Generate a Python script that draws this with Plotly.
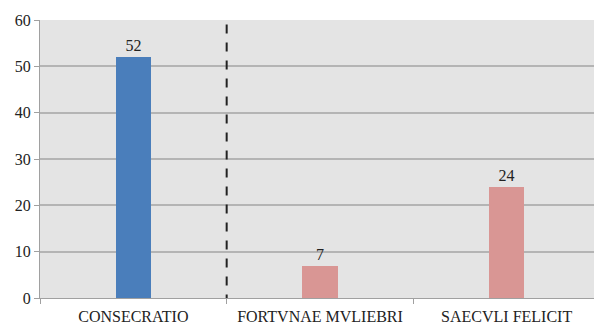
import plotly.graph_objects as go

categories = ["CONSECRATIO", "FORTVNAE MVLIEBRI", "SAECVLI FELICIT"]
values = [52, 7, 24]
bar_colors = ["#4a7ebb", "#d99694", "#d99694"]
y_ticks = [0, 10, 20, 30, 40, 50, 60]

font_family = "Liberation Serif, Times New Roman, serif"

fig = go.Figure()
fig.add_trace(go.Bar(
    x=categories,
    y=values,
    width=0.19,
    marker=dict(color=bar_colors, line=dict(width=0)),
    text=[str(v) for v in values],
    textposition="outside",
    textfont=dict(family=font_family, size=16, color="#222222"),
    cliponaxis=False,
))

fig.add_shape(type="line", xref="x", yref="y", x0=0.5, x1=0.5, y0=-1.2, y1=60,
              line=dict(color="#222222", width=2, dash="dash"))

# page body has an 8px default margin; size the figure to fit the window
fig.update_layout(
    width=594, height=316,
    margin=dict(l=32, r=2, t=12, b=26),
    paper_bgcolor="white",
    plot_bgcolor="#e4e4e4",
    showlegend=False,
    bargap=0,
    font=dict(family=font_family, size=16, color="#222222"),
)
fig.update_xaxes(
    range=[-0.5, 2.5],
    automargin=False,
    showgrid=False,
    showline=True, linecolor="#a0a0a0", linewidth=1,
    ticks="outside", tickson="boundaries", ticklen=5, tickcolor="#a0a0a0",
    ticklabelstandoff=4,
    tickfont=dict(family=font_family, size=16, color="#222222"),
    zeroline=False,
)
fig.update_yaxes(
    range=[0, 60],
    automargin=False,
    tickvals=y_ticks,
    showgrid=True, gridcolor="#b4b4b4", gridwidth=1.5,
    showline=True, linecolor="#a0a0a0", linewidth=1,
    ticks="outside", ticklen=5, tickcolor="#a0a0a0",
    tickfont=dict(family=font_family, size=16, color="#222222"),
    zeroline=False,
)

fig.write_html("out.html")
